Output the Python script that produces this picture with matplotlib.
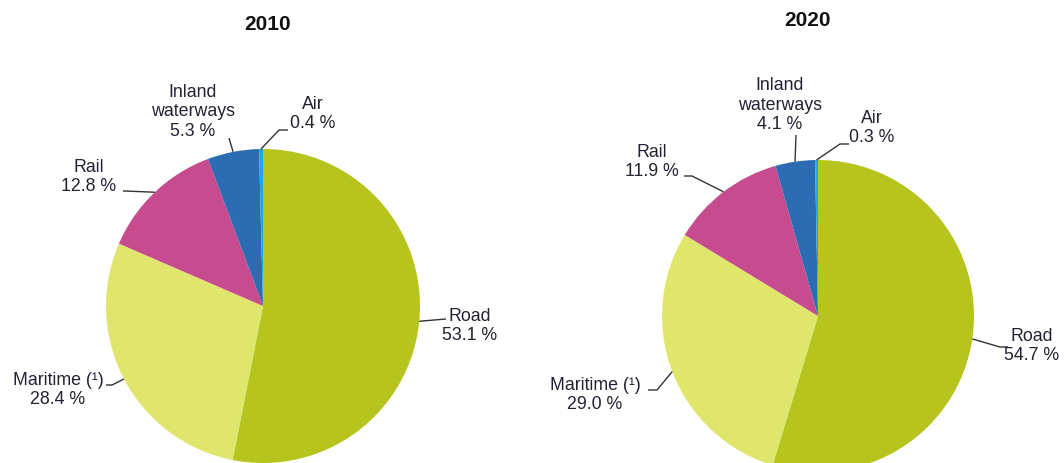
import numpy as np
import matplotlib
matplotlib.use("Agg")
import matplotlib.pyplot as plt

# ---- data ----
categories = ["Road", "Maritime (\u00b9)", "Rail", "Inland\nwaterways", "Air"]
years = ["2010", "2020"]
shares_2010 = [53.1, 28.4, 12.8, 5.3, 0.4]
shares_2020 = [54.7, 29.0, 11.9, 4.1, 0.3]
colors = ["#b7c41d", "#e0e66c", "#c64b8f", "#2b6cb3", "#1ea9e1"]

plt.rcParams['font.family'] = ['Liberation Sans', 'DejaVu Sans']

W, H = 1064, 464
fig = plt.figure(figsize=(W / 100, H / 100), dpi=100)
ax = fig.add_axes([0, 0, 1, 1])

# layout (pixel coordinates, y from top)
pies = [
    dict(values=shares_2010, center=(263, 307), r=157, title=(268, 24),
         labels=[(470, 326), (58, 390), (89, 177), (193, 112), (313, 114)],
         elbows=[None, (112, 386), (125, 192), None, (279, 131)],
         ends=[(446, 320), (106, 386), (123, 192), (229, 139), (288, 131)]),
    dict(values=shares_2020, center=(818, 317), r=156, title=(807, 21),
         labels=[(1032, 346), (595, 395), (652, 162), (780, 105), (872, 128)],
         elbows=[(1000, 348), (657, 391), (692, 177), None, (840, 145)],
         ends=[(1008, 348), (648, 391), (684, 177), (796, 136), (849, 145)]),
]

def fy(y):
    return H - y

for p, yr in zip(pies, years):
    cx, cy = p["center"]
    r = p["r"]
    vals = p["values"]
    wedges, _ = ax.pie(vals, colors=colors, startangle=90, counterclock=False,
                       center=(cx, fy(cy)), radius=r, frame=True,
                       wedgeprops=dict(linewidth=0))
    for w in wedges:
        w.set_clip_on(False)
    ax.text(p["title"][0], fy(p["title"][1]), yr, ha="center", va="center",
            fontsize=15, fontweight="bold", color="#111111")
    total = sum(vals)
    cum = 0.0
    for i, v in enumerate(vals):
        mid = 90 - (cum + v / 2) / total * 360
        cum += v
        ex = cx + r * np.cos(np.radians(mid))
        ey = cy - r * np.sin(np.radians(mid))
        pts = [(ex, ey)]
        if p["elbows"][i] is not None:
            pts.append(p["elbows"][i])
        pts.append(p["ends"][i])
        xs = [q[0] for q in pts]
        ys = [fy(q[1]) for q in pts]
        ax.plot(xs, ys, color="#333333", lw=1.0, solid_capstyle="butt", clip_on=False)
        lx, ly = p["labels"][i]
        ax.text(lx, fy(ly), f"{categories[i]}\n{v:.1f} %", ha="center", va="center",
                fontsize=12.8, color="#222233", linespacing=1.2)

ax.set_xlim(0, W)
ax.set_ylim(0, H)
ax.set_aspect("equal")
ax.axis("off")

fig.savefig("out.png", dpi=100, facecolor="white")
